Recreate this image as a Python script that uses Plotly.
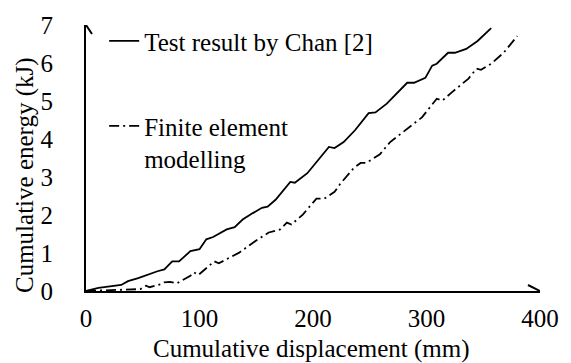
import plotly.graph_objects as go

# ---- data ----
x_test = [0, 11, 31, 37, 46, 57, 63, 69, 76, 82, 92, 100, 106, 112, 124, 131, 138, 147,
          155, 160, 167, 180, 184, 195, 210, 214, 219, 227, 237, 249, 255, 265, 283, 289,
          299, 305, 309, 319, 325, 335, 345, 357]
y_test = [0, 0.08, 0.16, 0.26, 0.34, 0.47, 0.52, 0.57, 0.78, 0.78, 1.05, 1.1, 1.36, 1.42,
          1.62, 1.68, 1.88, 2.05, 2.19, 2.22, 2.4, 2.87, 2.85, 3.1, 3.66, 3.79, 3.76, 3.92,
          4.23, 4.68, 4.7, 4.93, 5.48, 5.48, 5.61, 5.93, 5.98, 6.27, 6.27, 6.37, 6.58, 6.92]

x_fe = [0, 28, 48, 53, 56, 66, 69, 74, 80, 92, 95, 99, 113, 117, 135, 149, 161, 171, 177,
        181, 191, 203, 210, 219, 224, 236, 242, 247, 259, 268, 279, 296, 309, 314, 322,
        337, 344, 348, 357, 368, 380]
y_fe = [0, 0.02, 0.05, 0.14, 0.1, 0.18, 0.23, 0.24, 0.2, 0.4, 0.49, 0.42, 0.78, 0.73,
        1.01, 1.31, 1.54, 1.62, 1.80, 1.75, 2.01, 2.43, 2.43, 2.61, 2.82, 3.24, 3.37,
        3.37, 3.6, 3.92, 4.18, 4.57, 5.06, 5.01, 5.22, 5.59, 5.85, 5.82, 5.98, 6.27, 6.71]

series_names = ["Test result by Chan [2]", "Finite element<br>modelling"]
x_ticks = [0, 100, 200, 300, 400]
y_ticks = [0, 1, 2, 3, 4, 5, 6, 7]
x_title = "Cumulative displacement (mm)"
y_title = "Cumulative energy (kJ)"

FONT = "Liberation Serif, serif"
FS = 25
tfont = dict(family=FONT, size=FS, color="black")

fig = go.Figure()
fig.add_trace(go.Scatter(x=x_test, y=y_test, mode="lines", name=series_names[0],
                         line=dict(color="black", width=1.8), legend="legend"))
fig.add_trace(go.Scatter(x=x_fe, y=y_fe, mode="lines", name=series_names[1],
                         line=dict(color="black", width=1.8, dash="10px,4px,2px,4px"),
                         legend="legend2"))

# axis arrowheads (pixel-sized chevrons anchored at the axis ends)
fig.add_shape(type="path", xref="x", yref="y", xsizemode="pixel", ysizemode="pixel",
              xanchor=400, yanchor=0, path="M-12,6 L0,0 L-12,-6",
              line=dict(color="black", width=2))
fig.add_shape(type="path", xref="x", yref="y", xsizemode="pixel", ysizemode="pixel",
              xanchor=0, yanchor=7, path="M-6,-9 L0,0 L6,-9",
              line=dict(color="black", width=2))

fig.add_annotation(text=x_title, xref="paper", yref="paper", x=0, y=0, xshift=225,
                   yshift=-58, showarrow=False, font=tfont,
                   xanchor="center", yanchor="middle")
fig.add_annotation(text=y_title, xref="paper", yref="paper", x=0, y=0, xshift=-61,
                   yshift=116, textangle=-90, showarrow=False, font=tfont,
                   xanchor="center", yanchor="middle")

legend_common = dict(font=tfont, bgcolor="rgba(0,0,0,0)",
                     borderwidth=0, xanchor="left", yanchor="top", valign="top",
                     itemwidth=30, xref="paper", yref="paper")
fig.update_layout(
    width=571, height=363,
    margin=dict(l=86, r=21, t=24, b=72),
    paper_bgcolor="white", plot_bgcolor="white",
    font=tfont,
    showlegend=True,
    legend=dict(x=0.04, y=1.026, **legend_common),
    legend2=dict(x=0.04, y=0.706, **legend_common),
    xaxis=dict(range=[0, 400], tickvals=x_ticks, ticks="", showgrid=False, zeroline=False,
               showline=True, linecolor="black", linewidth=2,
               tickfont=tfont, ticklabelstandoff=4),
    yaxis=dict(range=[0, 7], tickvals=y_ticks, ticks="", showgrid=False, zeroline=False,
               showline=True, linecolor="black", linewidth=2,
               tickfont=tfont, ticklabelstandoff=26),
)

fig.write_html("out.html")
